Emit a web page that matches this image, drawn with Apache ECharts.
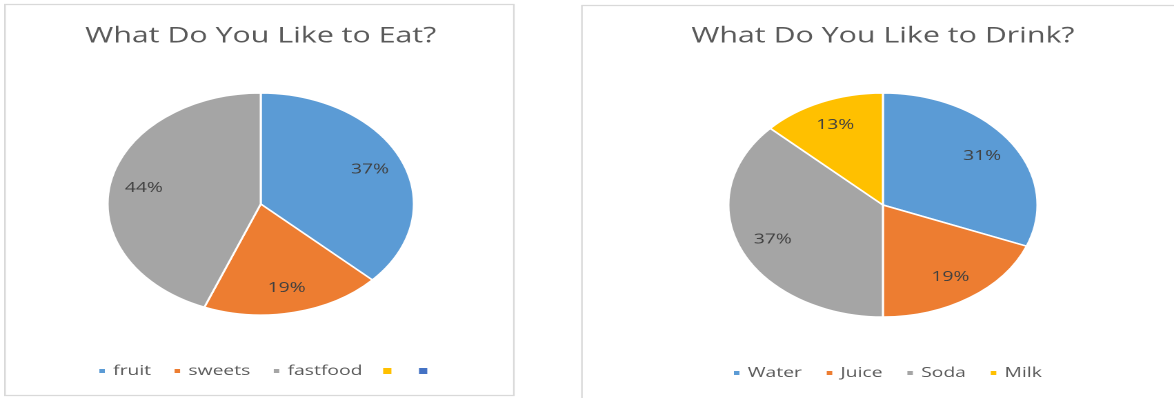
<!DOCTYPE html>
<html>
<head>
<meta charset="utf-8">
<title>What Do You Like to Eat / Drink?</title>
<script src="https://cdn.jsdelivr.net/npm/echarts@6/dist/echarts.min.js"></script>
<style>
  html, body { margin: 0; padding: 0; background: #fff; overflow: hidden; }
  #wrap { width: 1174px; height: 398px; overflow: hidden; }
  /* the charts are drawn at a narrower width and widened, so the pies come out oval */
  #chart { width: 851px; height: 398px; transform-origin: 0 0; }
</style>
</head>
<body>
<div id="wrap"><div id="chart"></div></div>
<script>
// Survey answers, in percent
const eatCategories = ['fruit', 'sweets', 'fastfood'];
const eatValues = [37, 19, 44];
const eatBlankLegend = ['\u200b', '\u200b\u200b']; // two unnamed legend entries

const drinkCategories = ['Water', 'Juice', 'Soda', 'Milk'];
const drinkValues = [31, 19, 37, 13];

const eatTitle = 'What Do You Like to Eat?';
const drinkTitle = 'What Do You Like to Drink?';

const palette = ['#5B9BD5', '#ED7D31', '#A5A5A5', '#FFC000', '#4472C4'];

const BASE_W = 851;
const chartEl = document.getElementById('chart');
chartEl.style.transform = 'scaleX(' + (1174 / BASE_W) + ')';

const chart = echarts.init(chartEl, null, { renderer: 'canvas', devicePixelRatio: 2 });

const FONT = '"Open Sans", "Noto Sans", sans-serif';
const textGray = '#595959';

function piePair(center, radius, names, values, extraNames) {
  const data = names.map((n, i) => ({ name: n, value: values[i] }));
  (extraNames || []).forEach(n => data.push({ name: n, value: 0, itemStyle: { borderWidth: 0 } }));
  const slices = {
    type: 'pie',
    center: center,
    radius: radius,
    startAngle: 90,
    clockwise: true,
    color: palette,
    label: { show: false },
    labelLine: { show: false },
    itemStyle: { borderColor: '#ffffff', borderWidth: 1.5 },
    emphasis: { disabled: true },
    silent: true,
    data: data
  };
  // percentage labels, placed at about three quarters of the radius
  const labels = {
    type: 'pie',
    center: center,
    radius: [radius * 0.5, radius],
    startAngle: 90,
    clockwise: true,
    itemStyle: { color: 'rgba(0,0,0,0)', borderWidth: 0 },
    label: {
      show: true,
      position: 'inside',
      formatter: '{d}%',
      color: '#404040',
      fontSize: 14,
      fontFamily: FONT
    },
    labelLine: { show: false },
    emphasis: { disabled: true },
    silent: true,
    data: values.map(v => ({ value: v }))
  };
  return [slices, labels];
}

const legendBase = {
  orient: 'horizontal',
  icon: 'rect',
  itemWidth: 6,
  itemHeight: 6,
  padding: 0,
  selectedMode: false,
  textStyle: { color: textGray, fontSize: 14, fontFamily: FONT }
};

chart.setOption({
  animation: false,
  color: palette,
  title: [
    {
      text: eatTitle, left: 189, top: 25, padding: 0, textAlign: 'center',
      textStyle: { color: textGray, fontSize: 22, fontWeight: 'normal', fontFamily: FONT }
    },
    {
      text: drinkTitle, left: 640, top: 25, padding: 0, textAlign: 'center',
      textStyle: { color: textGray, fontSize: 22, fontWeight: 'normal', fontFamily: FONT }
    }
  ],
  legend: [
    Object.assign({}, legendBase, {
      left: 70, top: 364, itemGap: 15,
      data: eatCategories.concat(eatBlankLegend)
    }),
    Object.assign({}, legendBase, {
      left: 530, top: 366, itemGap: 16,
      data: drinkCategories
    })
  ],
  graphic: [
    // chart frames
    {
      type: 'rect', silent: true, z: -1,
      shape: { x: 3.6, y: 4.5, width: 368.9, height: 391 },
      style: { fill: 'none', stroke: '#d9d9d9', lineWidth: 1.2 }
    },
    {
      type: 'rect', silent: true, z: -1,
      shape: { x: 421.8, y: 5.5, width: 460, height: 420 },
      style: { fill: 'none', stroke: '#d9d9d9', lineWidth: 1.2 }
    }
  ],
  series: [].concat(
    piePair([189, 204], 111, eatCategories, eatValues, eatBlankLegend),
    piePair([640, 205], 112, drinkCategories, drinkValues)
  )
});
</script>
</body>
</html>
